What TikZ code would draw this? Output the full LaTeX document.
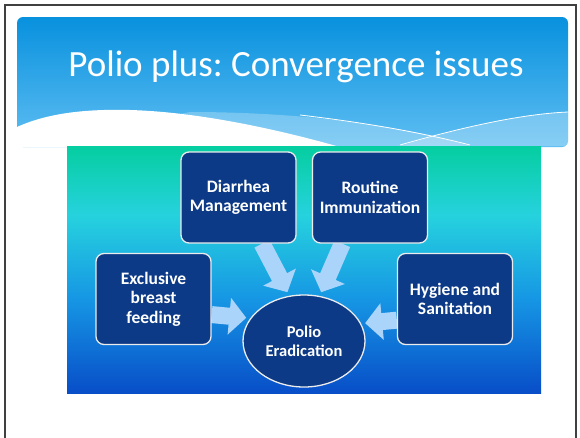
\documentclass[tikz,border=0pt]{standalone}
\usepackage{fontspec}
\setmainfont{Carlito}
\usetikzlibrary{shapes.geometric,arrows.meta,backgrounds}
\definecolor{boxnavy}{RGB}{12,58,135}
\definecolor{arrowblue}{RGB}{170,212,250}
\definecolor{headtop}{RGB}{8,145,222}
\definecolor{headbot}{RGB}{95,190,242}
\definecolor{pbot}{RGB}{8,78,200}
\definecolor{pmid}{RGB}{22,150,228}
\definecolor{pcyan}{RGB}{38,210,222}
\definecolor{ptop}{RGB}{5,206,160}
\pgfdeclareverticalshading{panelshade}{100bp}{color(0bp)=(pbot); color(25bp)=(pbot); color(44bp)=(pmid); color(61bp)=(pcyan); color(75bp)=(ptop); color(100bp)=(ptop)}
\frenchspacing

\begin{document}
\begin{tikzpicture}[x=1pt,y=-1pt,
  box/.style={draw=white!85!gray, line width=1.3pt, fill=boxnavy, rounded corners=8pt,
    minimum width=115pt, minimum height=91pt, text=white,
    font=\fontsize{17.5}{19.5}\selectfont\bfseries, align=center, inner sep=2pt},
  goal/.style={ellipse, draw=white!85!gray, line width=1.3pt, fill=boxnavy,
    minimum width=122pt, minimum height=92pt, text=white,
    font=\fontsize{16.5}{19}\selectfont\bfseries, align=center, inner sep=0pt},
  bigarrow/.style={arrowblue, line width=17pt, -{Triangle[length=17pt,width=36pt]}, shorten >=4pt}]
\useasboundingbox (0,0) rectangle (580,437);
\begin{scope}[on background layer]
  \fill[white] (0,0) rectangle (580,437);
  \draw[black!75, line width=1.2pt] (5,440) -- (5,5) -- (576,5) -- (576,440);
  % title bar with wave
  \shade[top color=headtop, bottom color=headbot, rounded corners=6pt] (17,17) rectangle (568,147);
  \fill[white, opacity=0.25] (190,112) .. controls (300,112) and (400,125) .. (470,146)
    -- (17,146) -- cycle;
  \fill[white, opacity=0.25] (400,146) .. controls (460,128) and (520,114) .. (568,112)
    -- (568,146) -- cycle;
  \draw[white, line width=0.8pt] (300,115) .. controls (360,122) and (420,132) .. (470,145);
  \draw[white, line width=0.8pt] (400,145) .. controls (460,128) and (520,114) .. (568,112);
  \fill[white] (17,127) .. controls (50,112) and (90,109) .. (130,110)
    .. controls (200,112) and (280,130) .. (340,147) -- (17,147) -- cycle;
  \shade[shading=panelshade] (67,146) rectangle (541,393);
\end{scope}
\node (title) [text=white, font=\fontsize{37}{42}\selectfont] at (296,67) {Polio plus: Convergence issues};

\node[box] (diar) at (238.5,197.5) {Diarrhea\\Management};
\node[box] (rout) at (370,197.5) {Routine\\Immunization};
\node[box] (excl) at (153.5,299) {Exclusive\\breast\\feeding};
\node[box] (hyg) at (455,299) {Hygiene and\\Sanitation};
\node[goal] (erad) at (304,341) {Polio\\Eradication};

\begin{scope}[on background layer]
  \draw[bigarrow] (diar.-63) -- (erad.108);
  \draw[bigarrow] (rout.-121) -- (erad.71);
  \draw[bigarrow] (excl.-15) -- (erad.157);
  \draw[bigarrow] (hyg.200) -- (erad.17);
\end{scope}
\end{tikzpicture}
\end{document}
